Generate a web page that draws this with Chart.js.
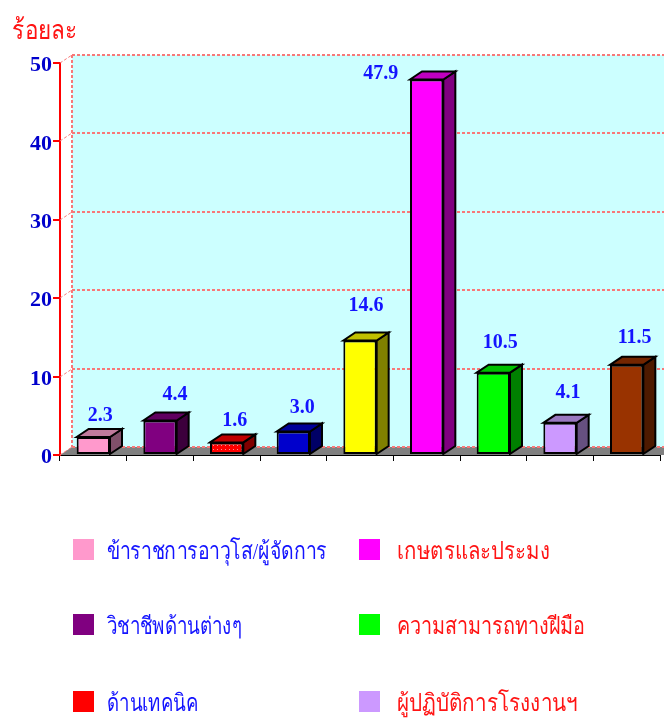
<!DOCTYPE html>
<html><head><meta charset="utf-8">
<script src="https://cdn.jsdelivr.net/npm/chart.js@4"></script>
<style>html,body{margin:0;padding:0;background:#fff;overflow:hidden;width:664px;height:719px}canvas{display:block}</style>
</head><body><canvas id="c" width="664" height="719"></canvas>
<script>
const yAxisTitle = 'ร้อยละ';
const categories = ['ข้าราชการอาวุโส/ผู้จัดการ','วิชาชีพด้านต่างๆ','ด้านเทคนิค','','','เกษตรและประมง','ความสามารถทางฝีมือ','ผู้ปฏิบัติการโรงงานฯ',''];
const percentages = [2.3,4.4,1.6,3.0,14.6,47.9,10.5,4.1,11.5];
const barColors = ['#FF99CC','#800080','#FF0000','#0000CC','#FFFF00','#FF00FF','#00FF00','#CC99FF','#993300'];
const sideColors = ['#80506A','#3C003C','#800000','#000066','#808000','#800080','#008000','#665080','#4D1A00'];
const topColors = ['#C07A9C','#600060','#C00000','#000099','#C0C000','#C000C0','#00C000','#9A78C0','#732600'];

const labelShiftX = [7,15,8,9,6,-46,7,8,8];
const labelShiftY = [-22,-27,-23,-25,-36,-7,-31,-31,-28];
const legendTextWidth = [220,135,91,0,0,153,188,180,0];

const DX=12, DY=8;
const SERIF='"Liberation Serif","Times New Roman",serif';

function dots(){
  const p=document.createElement('canvas');p.width=4;p.height=4;
  const g=p.getContext('2d');g.fillStyle='#FF0000';g.fillRect(0,0,4,4);
  g.fillStyle='#FF9090';g.fillRect(1,1,1,1);
  return g.createPattern(p,'repeat');
}
const fills=barColors.slice();fills[2]=dots();

const scene={
  id:'scene',
  beforeDatasetsDraw(c){
    const {ctx,chartArea:a,scales:{y}}=c;
    const w0=a.left+DX,r=664,b=y.getPixelForValue(0),t=y.getPixelForValue(50);
    ctx.save();
    ctx.fillStyle='#CCFFFF';ctx.fillRect(w0,t-DY,r-w0,b-t);
    ctx.fillStyle='#808080';ctx.beginPath();
    ctx.moveTo(a.left,b);ctx.lineTo(w0,b-DY);ctx.lineTo(r,b-DY);ctx.lineTo(r,b);ctx.closePath();ctx.fill();
    ctx.strokeStyle='#F87878';ctx.setLineDash([3,2]);
    ctx.lineWidth=1;
    y.ticks.forEach(k=>{
      const py=Math.round(y.getPixelForValue(k.value));
      ctx.beginPath();ctx.moveTo(a.left,py);ctx.lineTo(w0,py-DY);ctx.stroke();
    });
    ctx.lineWidth=2;
    y.ticks.forEach(k=>{
      const py=Math.round(y.getPixelForValue(k.value));
      ctx.beginPath();ctx.moveTo(w0,py-DY);ctx.lineTo(r,py-DY);ctx.stroke();
    });
    ctx.beginPath();ctx.moveTo(w0,t-DY);ctx.lineTo(w0,b-DY);ctx.stroke();
    ctx.restore();
  },
  afterDatasetsDraw(c){
    const {ctx}=c,m=c.getDatasetMeta(0);
    ctx.save();
    ctx.lineWidth=2;ctx.strokeStyle='#000';ctx.lineJoin='miter';
    m.data.forEach((e,i)=>{
      const l=e.x-e.width/2,R=e.x+e.width/2,T=e.y,B=e.base;
      ctx.fillStyle=sideColors[i];ctx.beginPath();
      ctx.moveTo(R,T);ctx.lineTo(R+DX,T-DY);ctx.lineTo(R+DX,B-DY);ctx.lineTo(R,B);ctx.closePath();ctx.fill();ctx.stroke();
      ctx.fillStyle=topColors[i];ctx.beginPath();
      ctx.moveTo(l,T);ctx.lineTo(l+DX,T-DY);ctx.lineTo(R+DX,T-DY);ctx.lineTo(R,T);ctx.closePath();ctx.fill();ctx.stroke();
      ctx.fillStyle='#1414FF';ctx.font='bold 20px '+SERIF;ctx.textAlign='center';ctx.textBaseline='middle';
      ctx.fillText(percentages[i].toFixed(1),e.x+labelShiftX[i],T+labelShiftY[i]+1);
    });
    ctx.restore();
  },
  afterDraw(c){
    const {ctx}=c;
    ctx.save();
    ctx.textBaseline='alphabetic';ctx.textAlign='left';
    ctx.fillStyle='#FF1414';ctx.font='27px '+SERIF;ctx.fillText(yAxisTitle,12,39,66);
    const rows=[551,626,703];
    const place=[[0,0],[0,1],[0,2],[1,0],[1,1],[1,2]];
    categories.filter(n=>n).forEach((name,i)=>{
      const [col,row]=place[i];
      const sx=col?359:73, tx=col?397:107, ry=rows[row];
      const idx=categories.indexOf(name);
      ctx.fillStyle=barColors[idx];ctx.fillRect(sx,ry-12,21,21);
      ctx.fillStyle=col?'#FF1414':'#1414FF';ctx.font='24px '+SERIF;
      ctx.fillText(name,tx,ry+8,legendTextWidth[idx]);
    });
    ctx.restore();
  }
};

new Chart(document.getElementById('c'),{
  type:'bar',
  data:{labels:categories,datasets:[{data:percentages,backgroundColor:fills,borderColor:'#000',borderWidth:2,borderSkipped:false,barPercentage:.5,categoryPercentage:1}]},
  options:{
    responsive:false,animation:false,
    layout:{padding:{left:0,right:4,top:63,bottom:0}},
    plugins:{legend:{display:false},tooltip:{enabled:false},title:{display:false}},
    scales:{
      x:{offset:true,ticks:{display:false},
        grid:{drawOnChartArea:false,color:'#000',tickLength:6,offset:true},
        border:{color:'#000',width:2},
        afterFit(s){s.height=264}},
      y:{min:0,max:50,ticks:{stepSize:10,color:'#0000CC',font:{family:SERIF,size:22,weight:'bold',lineHeight:'5px'},padding:1,
          callback:v=>['',String(v)]},
        grid:{drawOnChartArea:false,color:'#FF0000',tickLength:7,lineWidth:2},
        border:{color:'#FF0000',width:2},
        afterFit(s){s.width=60}}
    }
  },
  plugins:[scene]
});
</script></body></html>
